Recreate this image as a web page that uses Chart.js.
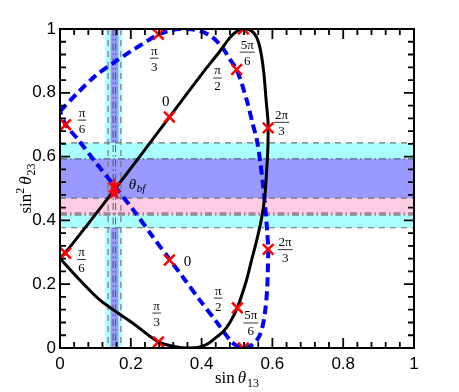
<!DOCTYPE html>
<html>
<head>
<meta charset="utf-8">
<script src="https://cdn.jsdelivr.net/npm/chart.js@4.4.1/dist/chart.umd.min.js"></script>
<style>
  html, body { margin: 0; padding: 0; background: #fff; }
  #wrap { width: 459px; height: 392px; }
</style>
</head>
<body>
<div id="wrap"><canvas id="chart" width="459" height="392"></canvas></div>
<script>
// solid black loop (sin t13 , sin^2 t23)
const blackX = [0, 0.016, 0.08, 0.153, 0.23, 0.309, 0.40, 0.45, 0.48, 0.50, 0.518, 0.54, 0.555, 0.567, 0.576, 0.582, 0.587, 0.588, 0.587, 0.584, 0.579, 0.570, 0.556, 0.54, 0.527, 0.501, 0.48, 0.46, 0.443, 0.42, 0.395, 0.36, 0.33, 0.278, 0.207, 0.113, 0.05, 0];
const blackY = [0.281, 0.300, 0.39, 0.495, 0.607, 0.724, 0.858, 0.928, 0.973, 0.993, 1.0, 0.995, 0.975, 0.93, 0.86, 0.78, 0.72, 0.69, 0.62, 0.56, 0.48, 0.41, 0.339, 0.27, 0.213, 0.126, 0.08, 0.05, 0.035, 0.015, 0.003, 0.0, 0.003, 0.019, 0.077, 0.15, 0.22, 0.281];
// dashed blue loop
const blueX = [0, 0.05, 0.10, 0.151, 0.20, 0.25, 0.278, 0.31, 0.339, 0.37, 0.395, 0.43, 0.46, 0.48, 0.499, 0.527, 0.545, 0.556, 0.566, 0.574, 0.579, 0.585, 0.588, 0.587, 0.585, 0.58, 0.574, 0.566, 0.556, 0.54, 0.518, 0.50, 0.48, 0.44, 0.395, 0.35, 0.311, 0.26, 0.207, 0.155, 0.10, 0.05, 0.016, 0];
const blueY = [0.742, 0.80, 0.853, 0.894, 0.93, 0.965, 0.983, 0.995, 1.0, 0.999, 0.994, 0.975, 0.94, 0.905, 0.873, 0.779, 0.70, 0.653, 0.58, 0.506, 0.45, 0.37, 0.309, 0.24, 0.181, 0.12, 0.077, 0.045, 0.024, 0.008, 0.0, 0.006, 0.025, 0.085, 0.150, 0.218, 0.276, 0.352, 0.433, 0.506, 0.583, 0.655, 0.70, 0.742];

// red crosses and best-fit stars
const crossX = [0.016, 0.278, 0.518, 0.499, 0.309, 0.588, 0.016, 0.309, 0.278, 0.501, 0.518, 0.588];
const crossY = [0.700, 0.983, 1.0, 0.873, 0.724, 0.690, 0.297, 0.276, 0.019, 0.126, 0.0, 0.309];
const starX = [0.153, 0.153];
const starY = [0.512, 0.488];

// phase labels
const fracX = [0.062, 0.266, 0.445, 0.529, 0.626, 0.061, 0.447, 0.273, 0.636, 0.539];
const fracY = [0.716, 0.91, 0.848, 0.929, 0.709, 0.279, 0.158, 0.111, 0.31, 0.08];
const fracNum = ['π', 'π', 'π', '5π', '2π', 'π', 'π', 'π', '2π', '5π'];
const fracDen = ['6', '3', '2', '6', '3', '6', '2', '3', '3', '6'];
const zeroX = [0.299, 0.360];
const zeroY = [0.774, 0.274];
const bfX = [0.217];
const bfY = [0.512];

const axisTicks = [0, 0.2, 0.4, 0.6, 0.8, 1];

// allowed ranges
const hCyan = [0.377, 0.643];
const hBlue = [0.470, 0.593];
const hPink = [0.417, 0.470];
const vCyan = [0.128, 0.176];
const vBlue = [0.143, 0.165];
const hDashed = [0.643, 0.470, 0.377];
const hDashDot = [0.593, 0.423, 0.417];
const vDashed = [0.136, 0.172];
const vDashDot = [0.150, 0.157];

const pts = (xs, ys) => xs.map((x, i) => ({ x: x, y: ys[i] }));

// filled red star for the best fit point
const star = document.createElement('canvas');
star.width = 16; star.height = 16;
(() => {
  const c = star.getContext('2d');
  c.fillStyle = '#ff0000';
  c.beginPath();
  for (let i = 0; i < 10; i++) {
    const r = i % 2 ? 3.2 : 7.8;
    const a = -Math.PI / 2 + i * Math.PI / 5;
    c.lineTo(8 + r * Math.cos(a), 8.6 + r * Math.sin(a));
  }
  c.closePath();
  c.fill();
})();

const bandsPlugin = {
  id: 'bands',
  beforeDatasetsDraw(chart) {
    const { ctx, chartArea: a, scales: { x, y } } = chart;
    ctx.save();
    ctx.beginPath();
    ctx.rect(a.left, a.top, a.right - a.left, a.bottom - a.top);
    ctx.clip();
    const vfill = (r, col) => {
      ctx.fillStyle = col;
      ctx.fillRect(x.getPixelForValue(r[0]), a.top, x.getPixelForValue(r[1]) - x.getPixelForValue(r[0]), a.bottom - a.top);
    };
    const hfill = (r, col) => {
      ctx.fillStyle = col;
      ctx.fillRect(a.left, y.getPixelForValue(r[1]), a.right - a.left, y.getPixelForValue(r[0]) - y.getPixelForValue(r[1]));
    };
    vfill(vCyan, 'rgb(170,255,255)');
    vfill(vBlue, 'rgb(153,153,255)');
    hfill(hCyan, 'rgb(170,255,255)');
    hfill(hBlue, 'rgb(153,153,255)');
    hfill(hPink, 'rgb(255,204,230)');
    const hline = (v, dash, col, lw) => {
      ctx.setLineDash(dash); ctx.strokeStyle = col; ctx.lineWidth = lw;
      ctx.beginPath();
      ctx.moveTo(a.left, y.getPixelForValue(v)); ctx.lineTo(a.right, y.getPixelForValue(v));
      ctx.stroke();
    };
    const vline = (v, dash, col, lw) => {
      ctx.setLineDash(dash); ctx.strokeStyle = col; ctx.lineWidth = lw;
      ctx.beginPath();
      ctx.moveTo(x.getPixelForValue(v), a.top); ctx.lineTo(x.getPixelForValue(v), a.bottom);
      ctx.stroke();
    };
    hDashed.forEach((v) => hline(v, [6, 5], '#707070', 1.2));
    hDashDot.forEach((v) => hline(v, [7, 3, 1.5, 3], '#404040', 0.9));
    vDashed.forEach((v) => vline(v, [6, 5], '#707070', 1.1));
    vDashDot.forEach((v) => vline(v, [7, 3, 1.5, 3], '#404040', 0.8));
    ctx.restore();
  },
  afterDraw(chart) {
    const { ctx, chartArea: a, scales: { x, y } } = chart;
    ctx.save();
    // frame
    ctx.strokeStyle = '#000';
    ctx.lineWidth = 2;
    ctx.strokeRect(a.left, a.top, a.right - a.left, a.bottom - a.top);
    // inward ticks on all sides
    ctx.lineWidth = 1.8;
    const tick = (v, len) => {
      const px = x.getPixelForValue(v), py = y.getPixelForValue(v);
      ctx.beginPath();
      ctx.moveTo(px, a.bottom); ctx.lineTo(px, a.bottom - len);
      ctx.moveTo(px, a.top); ctx.lineTo(px, a.top + len);
      ctx.moveTo(a.left, py); ctx.lineTo(a.left + len, py);
      ctx.moveTo(a.right, py); ctx.lineTo(a.right - len, py);
      ctx.stroke();
    };
    axisTicks.forEach((v, i) => {
      tick(v, 10);
      if (i < axisTicks.length - 1) {
        const step = (axisTicks[i + 1] - v) / 5;
        for (let k = 1; k < 5; k++) tick(v + k * step, 6);
      }
    });

    // phase labels
    ctx.fillStyle = '#000';
    ctx.strokeStyle = '#000';
    ctx.textAlign = 'center';
    ctx.textBaseline = 'alphabetic';
    ctx.font = '13px "Liberation Serif"';
    fracX.forEach((v, i) => {
      const px = x.getPixelForValue(v), py = y.getPixelForValue(fracY[i]);
      const w = Math.max(ctx.measureText(fracNum[i]).width, ctx.measureText(fracDen[i]).width) + 2;
      ctx.fillText(fracNum[i], px, py - 3);
      ctx.lineWidth = 0.8;
      ctx.beginPath();
      ctx.moveTo(px - w / 2, py + 0.5); ctx.lineTo(px + w / 2, py + 0.5);
      ctx.stroke();
      ctx.fillText(fracDen[i], px, py + 13);
    });
    ctx.font = '15px "Liberation Serif"';
    zeroX.forEach((v, i) => {
      ctx.fillText('0', x.getPixelForValue(v), y.getPixelForValue(zeroY[i]) + 5);
    });
    bfX.forEach((v, i) => {
      const px = x.getPixelForValue(v) - 8, py = y.getPixelForValue(bfY[i]) + 4;
      ctx.textAlign = 'left';
      ctx.font = 'italic 15px "Liberation Serif"';
      ctx.fillText('θ', px, py);
      ctx.font = 'italic 11px "Liberation Serif"';
      ctx.fillText('bf', px + 8, py + 3);
    });

    // axis titles
    const title = (parts, cx, cy) => {
      let w = 0;
      parts.forEach((p) => { ctx.font = p.f; w += ctx.measureText(p.t).width + (p.g || 0); });
      let px = cx - w / 2;
      ctx.textAlign = 'left';
      parts.forEach((p) => {
        ctx.font = p.f;
        ctx.fillText(p.t, px, cy + (p.dy || 0));
        px += ctx.measureText(p.t).width + (p.g || 0);
      });
    };
    title([
      { t: 'sin', f: '17px "Liberation Serif"', g: 3 },
      { t: 'θ', f: 'italic 17px "Liberation Serif"', g: 1 },
      { t: '13', f: '12px "Liberation Serif"', dy: 4 }
    ], (a.left + a.right) / 2, 383);
    ctx.translate(31, (a.top + a.bottom) / 2);
    ctx.rotate(-Math.PI / 2);
    title([
      { t: 'sin', f: '17px "Liberation Serif"' },
      { t: '2', f: '12px "Liberation Serif"', dy: -7, g: 3 },
      { t: 'θ', f: 'italic 17px "Liberation Serif"', g: 1 },
      { t: '23', f: '12px "Liberation Serif"', dy: 4 }
    ], 0, 0);
    ctx.restore();
  }
};

const fmt = (v) => String(Number(v.toFixed(1)));

new Chart(document.getElementById('chart'), {
  type: 'scatter',
  data: {
    datasets: [
      {
        data: pts(crossX, crossY),
        pointStyle: 'crossRot',
        pointRadius: 7.5,
        pointBorderWidth: 2.5,
        borderColor: '#ff0000',
        backgroundColor: '#ff0000',
        order: 0
      },
      {
        data: pts(starX, starY),
        pointStyle: star,
        order: 0
      },
      {
        data: pts(blackX, blackY),
        showLine: true,
        borderColor: '#000',
        borderWidth: 3,
        pointRadius: 0,
        tension: 0.3,
        order: 1
      },
      {
        data: pts(blueX, blueY),
        showLine: true,
        borderColor: '#0000ff',
        borderWidth: 4,
        borderDash: [9, 5],
        pointRadius: 0,
        tension: 0.3,
        order: 2
      }
    ]
  },
  options: {
    responsive: false,
    animation: false,
    layout: { padding: { left: 0, top: 29, right: 45, bottom: 0 } },
    plugins: { legend: { display: false }, tooltip: { enabled: false } },
    scales: {
      x: {
        type: 'linear', min: 0, max: 1,
        grid: { display: false, drawTicks: false },
        border: { display: false },
        ticks: {
          stepSize: 0.2, padding: 6, color: '#000',
          font: { family: '"Liberation Sans"', size: 17 },
          callback: fmt
        },
        afterFit(s) { s.height = 44; }
      },
      y: {
        type: 'linear', min: 0, max: 1,
        grid: { display: false, drawTicks: false },
        border: { display: false },
        ticks: {
          stepSize: 0.2, padding: 4, color: '#000',
          font: { family: '"Liberation Sans"', size: 17 },
          callback: fmt
        },
        afterFit(s) { s.width = 60; }
      }
    }
  },
  plugins: [bandsPlugin]
});
</script>
</body>
</html>
